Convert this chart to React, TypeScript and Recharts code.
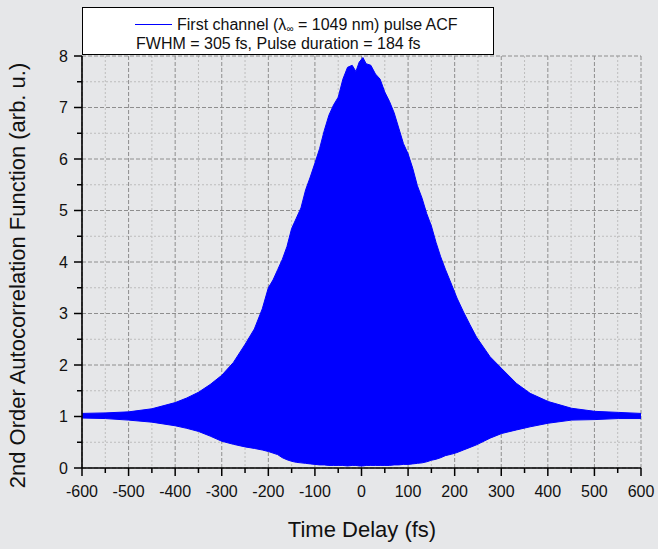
import { ComposedChart, Area, XAxis, YAxis, CartesianGrid } from 'recharts'

// time delay (fs) and fringe envelope of the interferometric ACF
const DELAY = [
  -600, -550, -500, -450, -400, -375, -350, -325, -300, -275, -250, -230, -213, -200,
  -190, -180, -170, -160, -150, -140, -130, -120, -110, -100, -90, -80, -70, -60, -50,
  -40, -30, -20, -12, -5, 3, 10, 20, 30, 40, 50, 60, 70, 80, 90, 100, 110, 120, 130,
  140, 150, 160, 170, 180, 194, 205, 219, 233, 247, 276, 301, 333, 362, 401, 451, 501,
  551, 600,
]
const UPPER = [
  1.06, 1.07, 1.09, 1.15, 1.27, 1.36, 1.47, 1.62, 1.80, 2.05, 2.40, 2.70, 3.09, 3.50,
  3.65, 3.85, 4.05, 4.30, 4.65, 4.85, 5.05, 5.40, 5.65, 5.92, 6.20, 6.55, 6.85, 7.05, 7.20,
  7.55, 7.78, 7.82, 7.70, 7.88, 7.97, 7.85, 7.82, 7.65, 7.55, 7.30, 7.12, 6.90, 6.60, 6.30,
  6.10, 5.82, 5.48, 5.24, 4.94, 4.70, 4.38, 4.10, 3.86, 3.55, 3.30, 3.03, 2.78, 2.54, 2.16,
  1.93, 1.64, 1.45, 1.29, 1.16, 1.10, 1.08, 1.06,
]
const LOWER = [
  0.97, 0.96, 0.93, 0.89, 0.82, 0.77, 0.71, 0.62, 0.52, 0.46, 0.41, 0.38, 0.35, 0.32,
  0.29, 0.26, 0.20, 0.16, 0.13, 0.11, 0.10, 0.09, 0.08, 0.07, 0.06, 0.06, 0.05, 0.05, 0.05,
  0.05, 0.04, 0.05, 0.05, 0.04, 0.04, 0.05, 0.05, 0.05, 0.05, 0.05, 0.05, 0.06, 0.06, 0.07,
  0.07, 0.08, 0.09, 0.10, 0.12, 0.15, 0.17, 0.20, 0.24, 0.27, 0.30, 0.35, 0.40, 0.45, 0.58,
  0.67, 0.74, 0.80, 0.87, 0.93, 0.94, 0.96, 0.96,
]

const X_TICKS = [
  -600, -550, -500, -450, -400, -350, -300, -250, -200, -150, -100, -50, 0,
  50, 100, 150, 200, 250, 300, 350, 400, 450, 500, 550, 600,
]
const Y_TICKS = [0, 0.5, 1, 1.5, 2, 2.5, 3, 3.5, 4, 4.5, 5, 5.5, 6, 6.5, 7, 7.5, 8]

const LEGEND_NAME = 'First channel (λ'
const LEGEND_NAME_END = ' = 1049 nm) pulse ACF'
const LEGEND_NOTE = 'FWHM = 305 fs, Pulse duration = 184 fs'
const X_TITLE = 'Time Delay (fs)'
const Y_TITLE = '2nd Order Autocorrelation Function (arb. u.)'

const data = DELAY.map((t, i) => ({ t, band: [LOWER[i], UPPER[i]] }))

const isMajorX = (v: number) => v % 100 === 0
const isMajorY = (v: number) => v % 1 === 0
const X_MAJOR = X_TICKS.filter(isMajorX)
const X_MINOR = X_TICKS.filter(v => !isMajorX(v))
const Y_MAJOR = Y_TICKS.filter(isMajorY)
const Y_MINOR = Y_TICKS.filter(v => !isMajorY(v))

const FONT = '"Liberation Sans", Arial, sans-serif'
const BG = '#e6e7e9'

function XTick(props: any) {
  const { x, y, payload } = props
  const major = isMajorX(payload.value)
  return (
    <g>
      <line x1={x} x2={x} y1={y} y2={y + (major ? 8 : 5)} stroke="#000" strokeWidth={1.5} />
      {major && (
        <text x={x} y={y + 29} textAnchor="middle" fontSize={16} fontFamily={FONT} fill="#111">
          {payload.value}
        </text>
      )}
    </g>
  )
}

function YTick(props: any) {
  const { x, y, payload } = props
  const major = isMajorY(payload.value)
  return (
    <g>
      <line x1={x} x2={x - (major ? 8 : 5)} y1={y} y2={y} stroke="#000" strokeWidth={1.5} />
      {major && (
        <text x={x - 14} y={y + 5.5} textAnchor="end" fontSize={16} fontFamily={FONT} fill="#111">
          {payload.value}
        </text>
      )}
    </g>
  )
}

export default function App() {
  return (
    <div style={{ position: 'absolute', left: 0, top: 0, width: 658, height: 549, background: BG }}>
      <ComposedChart
        width={658}
        height={549}
        data={data}
        margin={{ top: 56, right: 17, bottom: 0, left: 0 }}
      >
        {/* minor grid: dotted, light */}
        <CartesianGrid
          verticalValues={X_MINOR}
          horizontalValues={Y_MINOR}
          stroke="#bdbdbd"
          strokeDasharray="2 2"
          fill="none"
        />
        {/* major grid: dashed, darker */}
        <CartesianGrid
          verticalValues={X_MAJOR}
          horizontalValues={Y_MAJOR}
          stroke="#8e8e8e"
          strokeDasharray="4 2"
          fill="none"
        />
        <XAxis
          dataKey="t"
          type="number"
          domain={[-600, 600]}
          ticks={X_TICKS}
          interval={0}
          allowDataOverflow
          height={81}
          tickSize={0}
          tickMargin={0}
          tickLine={false}
          tick={<XTick />}
          axisLine={{ stroke: '#000', strokeWidth: 1.6 }}
        />
        <YAxis
          type="number"
          domain={[0, 8]}
          ticks={Y_TICKS}
          interval={0}
          allowDataOverflow
          width={82}
          tickSize={0}
          tickMargin={0}
          tickLine={false}
          tick={<YTick />}
          axisLine={{ stroke: '#000', strokeWidth: 1.6 }}
        />
        <Area
          dataKey="band"
          type="linear"
          stroke="#0000ff"
          strokeWidth={1}
          fill="#0000ff"
          fillOpacity={1}
          dot={false}
          activeDot={false}
          isAnimationActive={false}
        />
      </ComposedChart>

      {/* legend + axis titles */}
      <svg
        width={658}
        height={549}
        style={{ position: 'absolute', left: 0, top: 0, pointerEvents: 'none' }}
        fontFamily={FONT}
      >
        <rect x={82.5} y={7.5} width={411} height={47} fill="#fff" stroke="#000" strokeWidth={1} />
        <line x1={135} x2={172} y1={24.5} y2={24.5} stroke="#0000ff" strokeWidth={1.2} />
        <text x={177} y={30} fontSize={16} fill="#111">
          {LEGEND_NAME}
          <tspan fontSize={10} dy={2}>∞</tspan>
          <tspan dy={-2}>{LEGEND_NAME_END}</tspan>
        </text>
        <text x={136} y={49} fontSize={16} fill="#111">{LEGEND_NOTE}</text>

        <text x={362} y={537} textAnchor="middle" fontSize={22} fill="#111">{X_TITLE}</text>
        <text
          x={25}
          y={275.5}
          textAnchor="middle"
          fontSize={22}
          fill="#111"
          transform="rotate(-90, 25, 275.5)"
        >
          {Y_TITLE}
        </text>
      </svg>
    </div>
  )
}
